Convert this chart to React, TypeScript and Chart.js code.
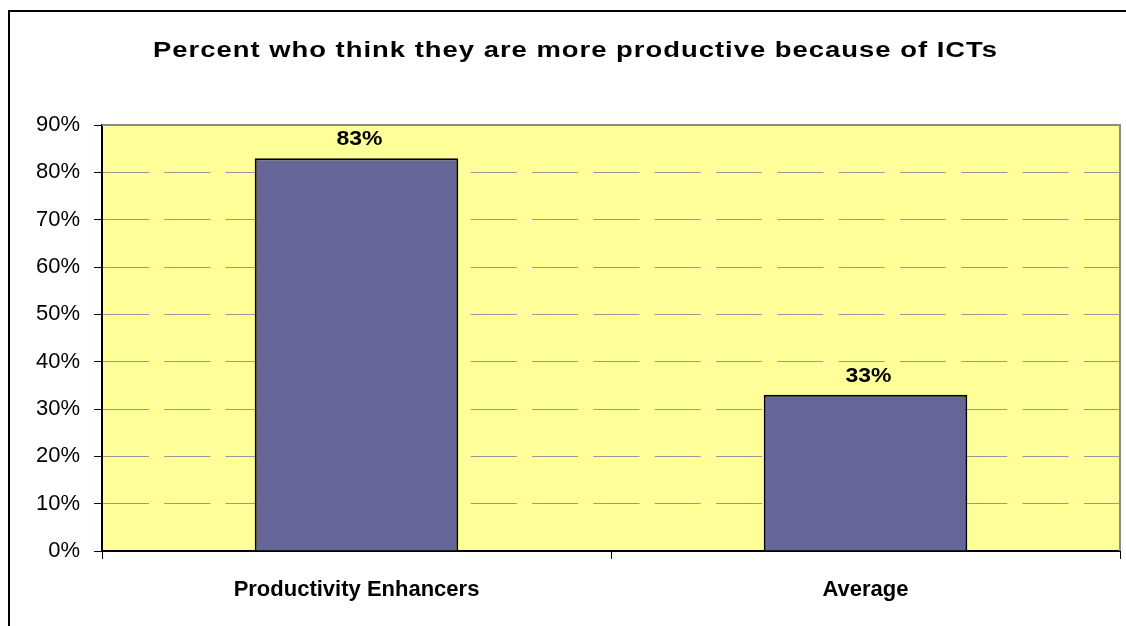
import React, { useEffect, useRef } from "react";
import { Chart, registerables } from "chart.js";

Chart.register(...registerables);

const categories = ["Productivity Enhancers", "Average"];
const values = [83, 33];
const yMin = 0;
const yMax = 90;
const yStep = 10;
const titleText = "Percent who think they are more productive because of ICTs";

const FONT = "'Liberation Sans', Arial, Helvetica, sans-serif";

function drawStretched(ctx: any, text: string, x: number, y: number, targetW: number, align: "left" | "center", spacing: number) {
  ctx.save();
  (ctx as any).letterSpacing = `${spacing}px`;
  const w = ctx.measureText(text).width - spacing;
  const sx = targetW / w;
  ctx.textAlign = "left";
  ctx.textBaseline = "alphabetic";
  const x0 = align === "center" ? x - targetW / 2 : x;
  ctx.translate(x0, y);
  ctx.scale(sx, 1);
  ctx.fillText(text, 0, 0);
  ctx.restore();
}

export default function App() {
  const ref = useRef<HTMLCanvasElement>(null);

  useEffect(() => {
    if (!ref.current) return;

    const decor = {
      id: "decor",
      beforeDraw(chart: any) {
        const { ctx, chartArea: a } = chart;
        ctx.save();
        ctx.fillStyle = "#FFFF99";
        ctx.fillRect(a.left, a.top, a.right - a.left, a.bottom - a.top);
        ctx.strokeStyle = "#000";
        ctx.lineWidth = 2;
        ctx.strokeRect(9, 11, chart.width + 40, chart.height + 40);
        // title
        ctx.fillStyle = "#000";
        ctx.font = `bold 22px ${FONT}`;
        drawStretched(ctx, titleText, 153, 57, 844, "left", 0.8);
        ctx.restore();
      },
      afterDatasetsDraw(chart: any) {
        const { ctx, chartArea: a } = chart;
        ctx.save();
        ctx.strokeStyle = "#8c8c8c";
        ctx.lineWidth = 2;
        ctx.beginPath();
        ctx.moveTo(a.left, a.top);
        ctx.lineTo(a.right, a.top);
        ctx.lineTo(a.right, a.bottom);
        ctx.stroke();
        // value labels
        const meta = chart.getDatasetMeta(0);
        ctx.fillStyle = "#000";
        ctx.font = `bold 21px ${FONT}`;
        meta.data.forEach((bar: any, i: number) => {
          drawStretched(ctx, `${values[i]}%`, bar.x + 3, bar.y - 13, 46, "center", 0);
        });
        ctx.restore();
      },
    };

    const chart = new Chart(ref.current, {
      type: "bar",
      data: {
        labels: categories,
        datasets: [
          {
            data: values,
            backgroundColor: "#666699",
            borderColor: "#000",
            borderWidth: 2,
            barPercentage: 0.4,
            categoryPercentage: 1,
          },
        ],
      },
      options: {
        responsive: false,
        animation: false,
        events: [],
        layout: { padding: { top: 125, right: 6, left: 0, bottom: 0 } },
        plugins: {
          legend: { display: false },
          title: { display: false },
          tooltip: { enabled: false },
        },
        scales: {
          x: {
            offset: true,
            grid: {
              offset: true,
              drawOnChartArea: false,
              drawTicks: true,
              tickLength: 8,
              tickColor: "#000",
              color: "#000",
              lineWidth: 1,
            },
            border: { display: true, color: "#000", width: 2 },
            ticks: {
              color: "#000",
              font: { family: FONT, size: 22, weight: "bold" },
              padding: 18,
              maxRotation: 0,
              autoSkip: false,
            },
            afterFit(s: any) {
              s.height = 75;
            },
          },
          y: {
            min: yMin,
            max: yMax,
            ticks: {
              stepSize: yStep,
              callback: (v: any) => `${v}%`,
              color: "#000",
              font: { family: FONT, size: 22 },
              padding: 14,
            },
            grid: {
              color: "#999999",
              lineWidth: 1,
              tickLength: 8,
              tickColor: "#000",
              tickBorderDash: [],
            },
            border: { display: true, color: "#000", width: 2, dash: [46, 15.3] },
            afterFit(s: any) {
              s.width = 102;
            },
          },
        },
      },
      plugins: [decor],
    });

    return () => chart.destroy();
  }, []);

  return (
    <div style={{ position: "fixed", left: 0, top: 0, width: 1126, height: 626, background: "#fff" }}>
      <canvas ref={ref} width={1126} height={626} style={{ display: "block" }} />
    </div>
  );
}
